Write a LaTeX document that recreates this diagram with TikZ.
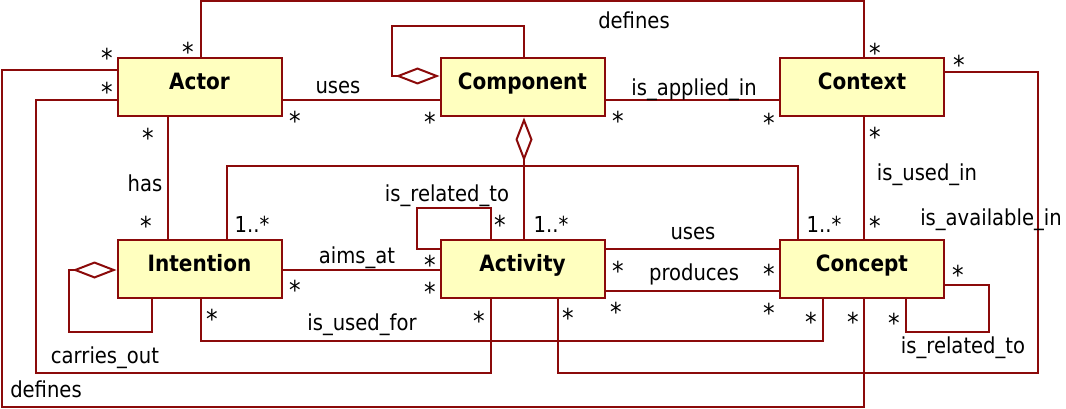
\documentclass[tikz,border=0pt]{standalone}
\usepackage{fontspec}
\setmainfont{DejaVu Sans}[FakeStretch=0.89]
\usetikzlibrary{arrows.meta}

\definecolor{umlred}{RGB}{139,10,10}
\definecolor{umlfill}{RGB}{255,255,191}

\begin{document}
\begin{tikzpicture}[
    x=1pt, y=-1pt,
    font=\fontsize{22}{26}\selectfont,
    cls/.style={rectangle, draw=umlred, fill=umlfill, line width=2pt,
        minimum width=164pt, minimum height=58pt, inner sep=0pt,
        text height=14pt, text depth=10pt, font=\fontsize{22.5}{26}\selectfont\bfseries},
    assoc/.style={draw=umlred, line width=2pt},
    agg/.style={assoc, -{Diamond[open, length=44pt, width=17pt]}},
    mult/.style={anchor=base, yshift=-14.5pt, inner sep=0pt, font=\fontsize{26}{28}\selectfont},
    lbl/.style={anchor=base, inner sep=0pt},
  ]

\useasboundingbox (0,0) rectangle (1066,409);

\def\colA{199.5}
\def\colB{522.5}
\def\colC{862}
\def\rowA{87.5}
\def\rowB{269}

  % Classes
  \node[cls] (actor) at (\colA,\rowA) {Actor};
  \node[cls] (component) at (\colB,\rowA) {Component};
  \node[cls] (context) at (\colC,\rowA) {Context};
  \node[cls] (intention) at (\colA,\rowB) {Intention};
  \node[cls] (activity) at (\colB,\rowB) {Activity};
  \node[cls] (concept) at (\colC,\rowB) {Concept};

  % Top row associations
  \draw[assoc] ([yshift=-12.5pt]actor.east) -- ([yshift=-12.5pt]component.west);
  \draw[assoc] ([yshift=-12.5pt]component.east) -- ([yshift=-12.5pt]context.west);
  \draw[assoc] ([xshift=1.5pt]actor.north) -- ++(0,-56) -| ([xshift=2pt]context.north);
  \draw[agg] ([xshift=1.5pt]component.north) |- (392,26) |- ([yshift=11.5pt]component.west);

  % Vertical associations
  \draw[assoc] ([xshift=-31.5pt]actor.south) -- ([xshift=-31.5pt]intention.north);
  \draw[agg] ([xshift=1.5pt]activity.north) -- ([xshift=1.5pt]component.south);
  \draw[assoc] ([xshift=2pt]context.south) -- ([xshift=2pt]concept.north);

  % Bottom row associations
  \draw[assoc] ([yshift=-1pt]intention.east) -- ([yshift=-1pt]activity.west);
  \draw[assoc] ([yshift=20pt]activity.east) -- ([yshift=20pt]concept.west);
  \draw[assoc] ([yshift=-22pt]activity.east) -- ([yshift=-22pt]concept.west);
  \draw[assoc] ([xshift=27.5pt]intention.north) -- ++(0,-73) -| ([xshift=-64pt]concept.north);
  \draw[assoc] ([xshift=-31.5pt]activity.north) |- (417,208) |- ([yshift=20pt]activity.west);
  \draw[agg] ([xshift=-47.5pt]intention.south) |- (69,332) |- ([yshift=-1pt]intention.west);
  \draw[assoc] ([yshift=-16pt]concept.east) -| (989,332) -| ([xshift=44pt]concept.south);

  % Long associations round the outside
  \draw[assoc] ([xshift=1.5pt]intention.south) -- ++(0,42) -| ([xshift=-39pt]concept.south);
  \draw[assoc] ([yshift=-13pt]actor.west) -| (36,373) -| ([xshift=-31.5pt]activity.south);
  \draw[assoc] ([yshift=15.5pt]context.east) -| (1038,373) -| ([xshift=35.5pt]activity.south);
  \draw[assoc] ([yshift=17pt]actor.west) -| (2,407) -| ([xshift=2pt]concept.south);

  % Association names
  \node[lbl] (l-defines) at (634,29) {defines};
  \node[lbl] (l-uses) at (338,94) {uses};
  \node[lbl] (l-applied) at (694,96) {is\_applied\_in};
  \node[lbl] (l-has) at (145,191) {has};
  \node[lbl] (l-related) at (447,201) {is\_related\_to};
  \node[lbl] (l-usedin) at (927,180) {is\_used\_in};
  \node[lbl] (l-available) at (991,225) {is\_available\_in};
  \node[lbl] (l-aims) at (357,263) {aims\_at};
  \node[lbl] (l-uses2) at (693,239) {uses};
  \node[lbl] (l-produces) at (694,280) {produces};
  \node[lbl] (l-usedfor) at (362,330) {is\_used\_for};
  \node[lbl] (l-carries) at (105,363) {carries\_out};
  \node[lbl] (l-defines2) at (46,397) {defines};
  \node[lbl] (l-related2) at (963,353) {is\_related\_to};

  % Multiplicities
  \node[mult] (m1) at (188,47) {*};
  \node[mult] (m2) at (875,48) {*};
  \node[mult] (m3) at (107,53) {*};
  \node[mult] (m4) at (107,87) {*};
  \node[mult] (m5) at (295,116) {*};
  \node[mult] (m6) at (148,133) {*};
  \node[mult] (m7) at (430,117) {*};
  \node[mult] (m8) at (618,116) {*};
  \node[mult] (m9) at (769,118) {*};
  \node[mult] (m10) at (959,60) {*};
  \node[mult] (m11) at (875,132) {*};
  \node[mult] (m12) at (146,221) {*};
  \node[mult] (m13) at (295,285) {*};
  \node[mult] (m14) at (212,314) {*};
  \node[mult] (m15) at (500,220) {*};
  \node[mult] (m16) at (430,260) {*};
  \node[mult] (m17) at (430,287) {*};
  \node[mult] (m18) at (479,316) {*};
  \node[mult] (m19) at (568,313) {*};
  \node[mult] (m20) at (618,266) {*};
  \node[mult] (m21) at (616,307) {*};
  \node[mult] (m22) at (875,221) {*};
  \node[mult] (m23) at (769,269) {*};
  \node[mult] (m24) at (769,308) {*};
  \node[mult] (m25) at (811,317) {*};
  \node[mult] (m26) at (853,317) {*};
  \node[mult] (m27) at (894,318) {*};
  \node[mult] (m28) at (958,270) {*};
  \node[lbl] (r1) at (252,232) {1..*};
  \node[lbl] (r2) at (551,232) {1..*};
  \node[lbl] (r3) at (824,232) {1..*};

\end{tikzpicture}
\end{document}
